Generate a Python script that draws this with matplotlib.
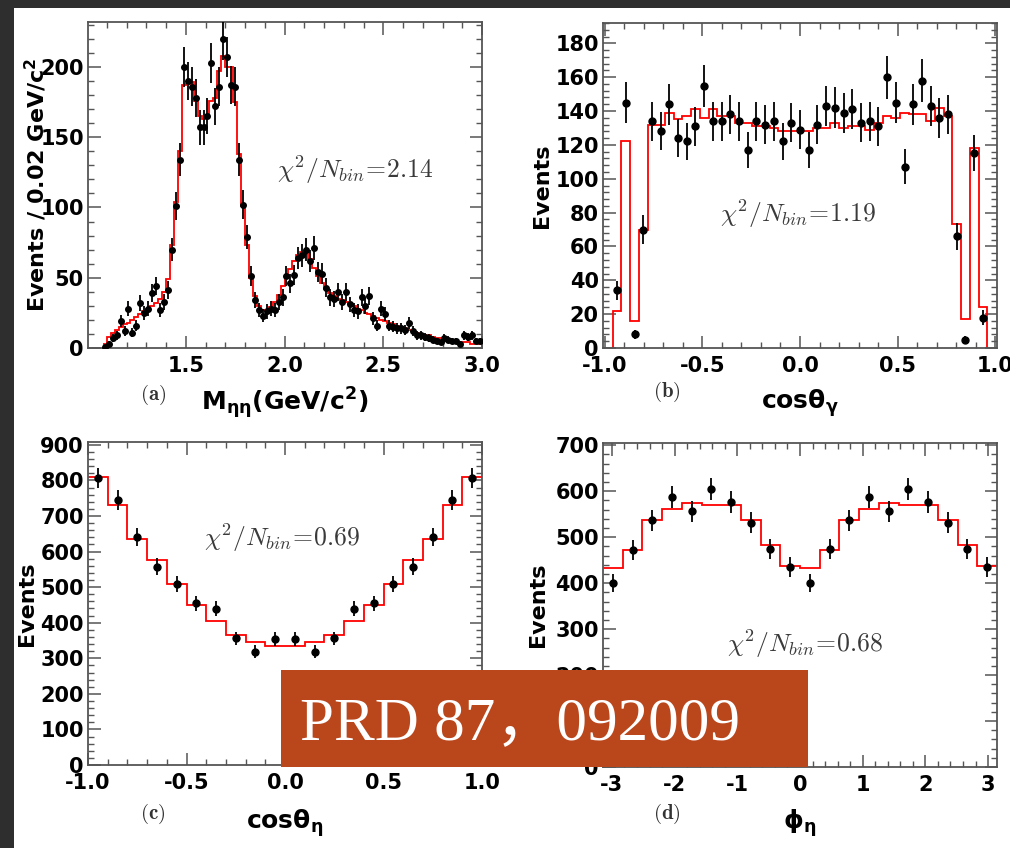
import numpy as np
import matplotlib.pyplot as plt
from matplotlib.patches import Rectangle
from matplotlib.ticker import MultipleLocator, FormatStrFormatter

plt.rcParams['font.family'] = 'DejaVu Sans'
plt.rcParams['font.weight'] = 'bold'
plt.rcParams['axes.labelweight'] = 'bold'

# ---- (a) M(eta eta), 0.02 GeV bins from 1.08 to 3.0
mass_edges = np.linspace(1.08, 3.0, 97)
mass_counts = [1, 3, 7, 9, 19, 12, 28, 11, 16, 32, 25, 28, 39, 44, 27, 33,
               41, 70, 101, 134, 200, 190, 186, 178, 157, 157, 165, 203, 172,
               186, 220, 207, 187, 186, 134, 102, 79, 51, 34, 27, 23, 26, 28,
               27, 33, 36, 51, 46, 52, 64, 66, 70, 62, 71, 54, 53, 43, 36, 35,
               40, 33, 40, 31, 27, 26, 36, 30, 37, 21, 16, 28, 24, 16, 15, 14,
               14, 13, 18, 12, 9, 9, 8, 7, 6, 5, 4, 7, 6, 5, 5, 3, 9, 8, 9, 5, 5]
mass_fit = [3, 8, 11, 13, 15, 17, 18, 20, 22, 24, 26, 28, 30, 32, 35, 40, 49,
            73, 104, 140, 187, 188, 189, 176, 165, 163, 165, 176, 178, 197,
            208, 200, 200, 175, 138, 101, 73, 50, 37, 30, 27, 27, 29, 33, 38,
            44, 50, 56, 62, 66, 68, 67, 63, 57, 51, 46, 42, 39, 37, 35, 34, 33,
            31, 30, 28, 27, 25, 24, 23, 21, 20, 19, 18, 17, 16, 15, 14, 13, 12,
            11, 10, 9, 9, 8, 7, 7, 6, 6, 5, 5, 4, 4, 4, 3, 3, 3]

# ---- (b) cos(theta_gamma)
cg_edges = np.linspace(-0.96, 0.96, 44)
cg_counts = [34, 145, 8, 70, 134, 128, 144, 124, 122, 131, 155, 134, 134, 138,
             134, 117, 134, 132, 134, 122, 133, 129, 117, 132, 143, 142, 139,
             141, 133, 134, 131, 160, 145, 107, 144, 158, 143, 136, 138, 66, 5,
             115, 18]
cg_fit = [22, 122, 16, 70, 132, 132, 139, 135, 137, 141, 136, 141, 137, 137,
          133, 133, 131, 131, 130, 128, 128, 128, 128, 130, 130, 133, 130, 131,
          131, 129, 133, 137, 136, 139, 138, 138, 134, 142, 137, 73, 17, 118, 24]

# ---- (c) cos(theta_eta)
ce_edges = np.linspace(-1.0, 1.0, 21)
ce_counts = [806, 745, 640, 558, 508, 455, 439, 356, 319, 354,
             354, 319, 356, 439, 455, 508, 558, 640, 745, 806]
ce_fit = [810, 730, 635, 575, 510, 450, 405, 365, 345, 335,
          335, 345, 365, 405, 450, 510, 575, 635, 730, 810]

# ---- (d) phi_eta
ph_edges = np.linspace(-np.pi, np.pi, 21)
ph_counts = [400, 473, 537, 587, 556, 605, 577, 532, 475, 435,
             400, 475, 537, 587, 556, 605, 577, 532, 475, 435]
ph_fit = [433, 473, 537, 561, 575, 571, 571, 537, 484, 437,
          433, 473, 537, 561, 575, 571, 571, 537, 484, 437]

W, H = 1010, 848
fig = plt.figure(figsize=(W / 100, H / 100), dpi=100)
fig.patch.set_facecolor('white')


def add_ax(l, t, r, b):
    return fig.add_axes([l / W, 1 - b / H, (r - l) / W, (b - t) / H])


def draw(ax, edges, counts, fit, ms, baseline=None):
    edges = np.asarray(edges)
    centers = 0.5 * (edges[1:] + edges[:-1])
    counts = np.asarray(counts, dtype=float)
    ax.stairs(fit, edges, color='red', lw=1.3, baseline=baseline, zorder=2)
    ax.errorbar(centers, counts, yerr=np.sqrt(counts), fmt='o', color='black',
                ms=ms, elinewidth=1.3, capsize=0, zorder=3)


def style(ax, xmaj, xmin, ymaj, ymin, xfmt):
    ax.xaxis.set_major_locator(MultipleLocator(xmaj))
    ax.xaxis.set_minor_locator(MultipleLocator(xmin))
    ax.yaxis.set_major_locator(MultipleLocator(ymaj))
    ax.yaxis.set_minor_locator(MultipleLocator(ymin))
    ax.xaxis.set_major_formatter(FormatStrFormatter(xfmt))
    ax.tick_params(which='both', direction='in', top=True, right=True,
                   color='#555555', labelsize=15)
    ax.tick_params(which='major', length=9, width=1.1)
    ax.tick_params(which='minor', length=4.5, width=1.0)
    ax.tick_params(axis='x', pad=6)
    ax.tick_params(axis='y', pad=3)
    for s in ax.spines.values():
        s.set_color('#555555')
        s.set_linewidth(1.3)


chi_kw = dict(fontsize=18.5, color='#3a3a3a', math_fontfamily='cm')
tag_kw = dict(fontsize=15, color='#333333', math_fontfamily='cm',
              ha='center', va='center')
lab_kw = dict(math_fontfamily='dejavusans')

# (a)
ax = add_ax(88, 22, 482, 348)
draw(ax, mass_edges, mass_counts, mass_fit, ms=4)
style(ax, 0.5, 0.1, 50, 10, '%.1f')
ax.set_xlim(1.005, 3.0)
ax.set_ylim(0, 232)
ax.text(1.96, 127, r'$\chi^2/N_{bin}\!=\!2.14$', va='center', **chi_kw)
ax.set_xlabel(r'M$_{\mathbf{\eta\eta}}$(GeV/c$^{\mathbf{2}}$)', fontsize=18, **lab_kw)
ax.xaxis.set_label_coords(0.5, -0.115)
ax.set_ylabel(r'Events / 0.02 GeV/c$^{\mathbf{2}}$', fontsize=16, **lab_kw)
ax.yaxis.set_label_coords(-0.10, 0.5)
ax.text(0.165, -0.145, r'$\mathbf{(a)}$', transform=ax.transAxes, **tag_kw)

# (b)
ax = add_ax(603, 23, 997, 348)
draw(ax, cg_edges, cg_counts, cg_fit, ms=5, baseline=0)
style(ax, 0.5, 0.1, 20, 4, '%.1f')
ax.set_xlim(-1.01, 1.01)
ax.set_ylim(0, 192)
ax.text(-0.41, 79, r'$\chi^2/N_{bin}\!=\!1.19$', va='center', **chi_kw)
ax.set_xlabel(r'cosθ$_{\mathbf{\gamma}}$', fontsize=18, **lab_kw)
ax.xaxis.set_label_coords(0.5, -0.12)
ax.set_ylabel('Events', fontsize=16)
ax.yaxis.set_label_coords(-0.13, 0.5)
ax.text(0.162, -0.135, r'$\mathbf{(b)}$', transform=ax.transAxes, **tag_kw)

# (c)
ax = add_ax(88, 442, 482, 765)
draw(ax, ce_edges, ce_counts, ce_fit, ms=5)
style(ax, 0.5, 0.1, 100, 20, '%.1f')
ax.set_xlim(-1.0, 1.0)
ax.set_ylim(0, 908)
ax.text(-0.41, 638, r'$\chi^2/N_{bin}\!=\!0.69$', va='center', **chi_kw)
ax.set_xlabel(r'cosθ$_{\mathbf{\eta}}$', fontsize=18, **lab_kw)
ax.xaxis.set_label_coords(0.5, -0.13)
ax.set_ylabel('Events', fontsize=16)
ax.yaxis.set_label_coords(-0.13, 0.5)
ax.text(0.164, -0.152, r'$\mathbf{(c)}$', transform=ax.transAxes, **tag_kw)

# (d)
ax = add_ax(603, 443, 997, 767)
draw(ax, ph_edges, ph_counts, ph_fit, ms=5)
style(ax, 1, 0.2, 100, 20, '%d')
ax.set_xlim(-np.pi, np.pi)
ax.set_ylim(0, 705)
ax.text(-1.17, 268, r'$\chi^2/N_{bin}\!=\!0.68$', va='center', **chi_kw)
ax.set_xlabel(r'ϕ$_{\mathbf{\eta}}$', fontsize=18, **lab_kw)
ax.xaxis.set_label_coords(0.5, -0.123)
ax.set_ylabel('Events', fontsize=16)
ax.yaxis.set_label_coords(-0.14, 0.5)
ax.text(0.162, -0.145, r'$\mathbf{(d)}$', transform=ax.transAxes, **tag_kw)

# dark slide frame (left and top)
fig.add_artist(Rectangle((0, 0), 14 / W, 1, transform=fig.transFigure,
                         facecolor='#2e2e2e', edgecolor='none', zorder=10))
fig.add_artist(Rectangle((0, 1 - 8 / H), 1, 8 / H, transform=fig.transFigure,
                         facecolor='#2e2e2e', edgecolor='none', zorder=10))

# citation banner
fig.add_artist(Rectangle((281 / W, 1 - 767 / H), (808 - 281) / W, (767 - 670) / H,
                         transform=fig.transFigure, facecolor='#BA461C',
                         edgecolor='none', zorder=10))
fig.text(300 / W, 1 - 724 / H, 'PRD 87，092009', color='white', fontsize=44,
         family=['Liberation Serif', 'Noto Sans CJK SC'], weight='normal',
         ha='left', va='center', zorder=11)

fig.savefig('out.png', dpi=100)
